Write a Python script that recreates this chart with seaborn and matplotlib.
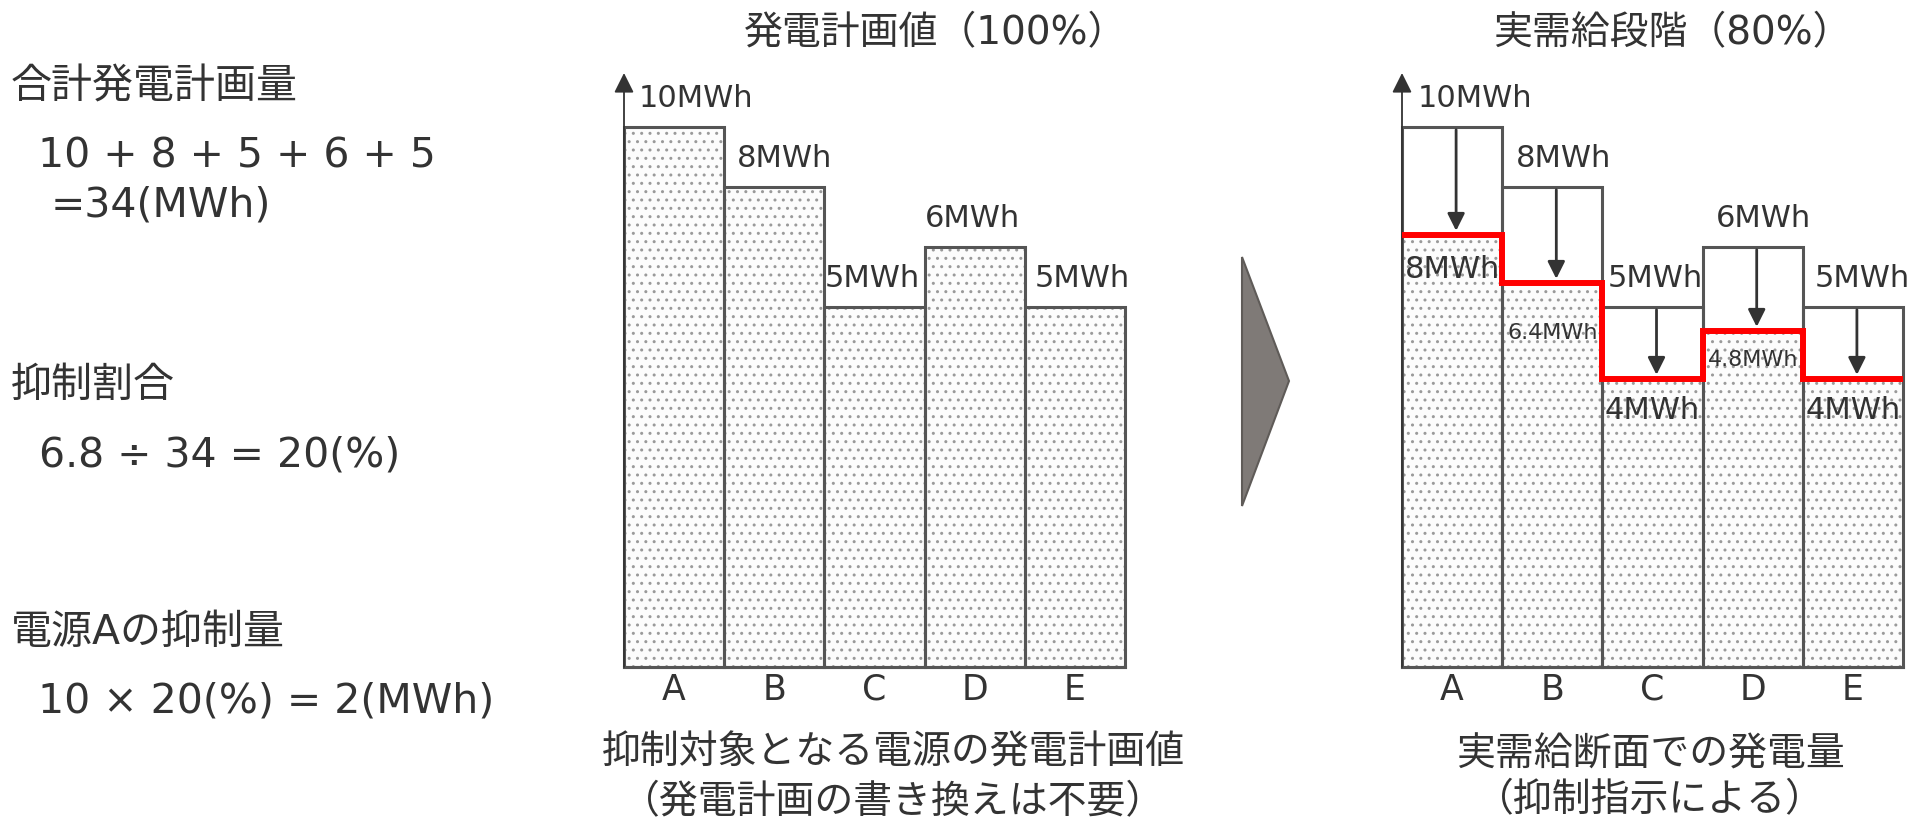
import numpy as np
import matplotlib
matplotlib.use('Agg')
import matplotlib.pyplot as plt
import seaborn as sns
from matplotlib.patches import Polygon

# --- data ---
sources = ['A', 'B', 'C', 'D', 'E']
plan_height = [9, 8, 6, 7, 6]            # drawn height of the planned bars (picture units)
plan_label = ['10MWh', '8MWh', '5MWh', '6MWh', '5MWh']
actual_height = [7.2, 6.4, 4.8, 5.6, 4.8]  # drawn height under the red line
actual_label = ['8MWh', '6.4MWh', '4MWh', '4.8MWh', '4MWh']

left_title = '発電計画値（100%）'
right_title = '実需給段階（80%）'
left_caption = ['抑制対象となる電源の発電計画値', '（発電計画の書き換えは不要）']
right_caption = ['実需給断面での発電量', '（抑制指示による）']
calc_text = ['合計発電計画量', '10 + 8 + 5 + 6 + 5', '=34(MWh)',
             '抑制割合', '6.8 ÷ 34 = 20(%)',
             '電源Aの抑制量', '10 × 20(%) = 2(MWh)']

sns.set_style('white')
TXT = '#333333'
EDGE = '#555555'
DOTS = '#9a9a9a'
plt.rcParams['font.family'] = ['DejaVu Sans', 'Noto Sans CJK JP']
plt.rcParams['text.color'] = TXT
plt.rcParams['hatch.linewidth'] = 1.0

W, H = 1925, 823
fig = plt.figure(figsize=(W / 100, H / 100), dpi=100)
fig.patch.set_facecolor('white')

def fx(x):
    return x / W

def fy(y):
    return 1 - y / H

YTOP = 9.9


def setup_axes(left_px):
    ax = fig.add_axes([fx(left_px), fy(667), 501 / W, 594 / H])
    return ax


def finish_axes(ax):
    ax.set_xlim(-0.5, 4.5)
    ax.set_ylim(0, YTOP)
    ax.set_yticks([])
    ax.set_xticks([])
    ax.set_xlabel('')
    ax.set_ylabel('')
    for s in ['left', 'top', 'right']:
        ax.spines[s].set_visible(False)
    ax.spines['bottom'].set_color(EDGE)
    ax.spines['bottom'].set_linewidth(2.2)
    ax.set_facecolor('none')
    for p in ax.patches:
        p.set_clip_on(False)
    # category names under the bars
    for i, name in enumerate(sources):
        ax.annotate(name, xy=(i, 0), xytext=(0, -16.5), textcoords='offset points',
                    ha='center', va='center', fontsize=25, color=TXT,
                    annotation_clip=False)
    # value axis drawn as an arrow
    ax.annotate('', xy=(-0.5, YTOP), xytext=(-0.5, 0),
                arrowprops=dict(arrowstyle='-|>', color=TXT, lw=1.3,
                                mutation_scale=30, shrinkA=0, shrinkB=0),
                annotation_clip=False)


def top_labels(ax, dx):
    for i, lab in enumerate(plan_label):
        ax.annotate(lab, xy=(i + dx[i], plan_height[i]), xytext=(0, 14.5),
                    textcoords='offset points', ha='center', va='baseline',
                    fontsize=22, color=TXT, annotation_clip=False)


# --- left chart: planned values ---
ax1 = setup_axes(624)
sns.barplot(x=sources, y=plan_height, width=1, color='#fcfcfc', saturation=1,
            edgecolor=DOTS, linewidth=0, hatch='..', errorbar=None, ax=ax1)
sns.barplot(x=sources, y=plan_height, width=1, fill=False, color=EDGE,
            linewidth=2.2, errorbar=None, ax=ax1)
finish_axes(ax1)
top_labels(ax1, [0.22, 0.1, -0.02, -0.02, 0.07])

# --- right chart: actual supply ---
ax2 = setup_axes(1402)
sns.barplot(x=sources, y=actual_height, width=1, color='#fcfcfc', saturation=1,
            edgecolor=DOTS, linewidth=0, hatch='..', errorbar=None, ax=ax2)
sns.barplot(x=sources, y=plan_height, width=1, fill=False, color=EDGE,
            linewidth=2.2, errorbar=None, ax=ax2)
finish_axes(ax2)
top_labels(ax2, [0.23, 0.11, 0.03, 0.11, 0.09])

ax2.stairs(actual_height, np.arange(-0.5, 5.0, 1.0), baseline=None,
           color='#ff0000', lw=4.3, zorder=6, clip_on=False)

for i in range(len(sources)):
    ax2.annotate('', xy=(i + 0.04, actual_height[i]), xytext=(i + 0.04, plan_height[i]),
                 arrowprops=dict(arrowstyle='-|>', color=TXT, lw=2,
                                 mutation_scale=26, shrinkA=2, shrinkB=3),
                 annotation_clip=False, zorder=5)

inner_off = [31, 40, 29, 25, 29]
inner_size = [22, 16, 22, 16, 22]
for i, lab in enumerate(actual_label):
    ax2.annotate(lab, xy=(i, actual_height[i]), xytext=(0, -inner_off[i]),
                 textcoords='offset points', ha='center', va='baseline',
                 fontsize=inner_size[i], color=TXT, zorder=7)

# --- titles and captions ---
fig.text(fx(936), fy(33), left_title, ha='center', va='center', fontsize=28)
fig.text(fx(1672), fy(33), right_title, ha='center', va='center', fontsize=28)
fig.text(fx(893), fy(753), left_caption[0], ha='center', va='center', fontsize=28)
fig.text(fx(893), fy(802), left_caption[1], ha='center', va='center', fontsize=28)
fig.text(fx(1650), fy(755), right_caption[0], ha='center', va='center', fontsize=28)
fig.text(fx(1650), fy(800), right_caption[1], ha='center', va='center', fontsize=28)

# --- calculation notes on the left ---
calc_pos = [(11, 99), (38, 167), (51, 217), (11, 397), (39, 466), (11, 644), (38, 712)]
for s, (x, y) in zip(calc_text, calc_pos):
    fig.text(fx(x), fy(y), s, ha='left', va='baseline', fontsize=29.5)

# --- big arrow between the charts ---
fig.add_artist(Polygon([(fx(1242), fy(257)), (fx(1289), fy(381)), (fx(1242), fy(506))],
                       closed=True, transform=fig.transFigure,
                       facecolor='#7f7a77', edgecolor='#5f5b58', lw=1.5))

fig.savefig('out.png', dpi=100)
